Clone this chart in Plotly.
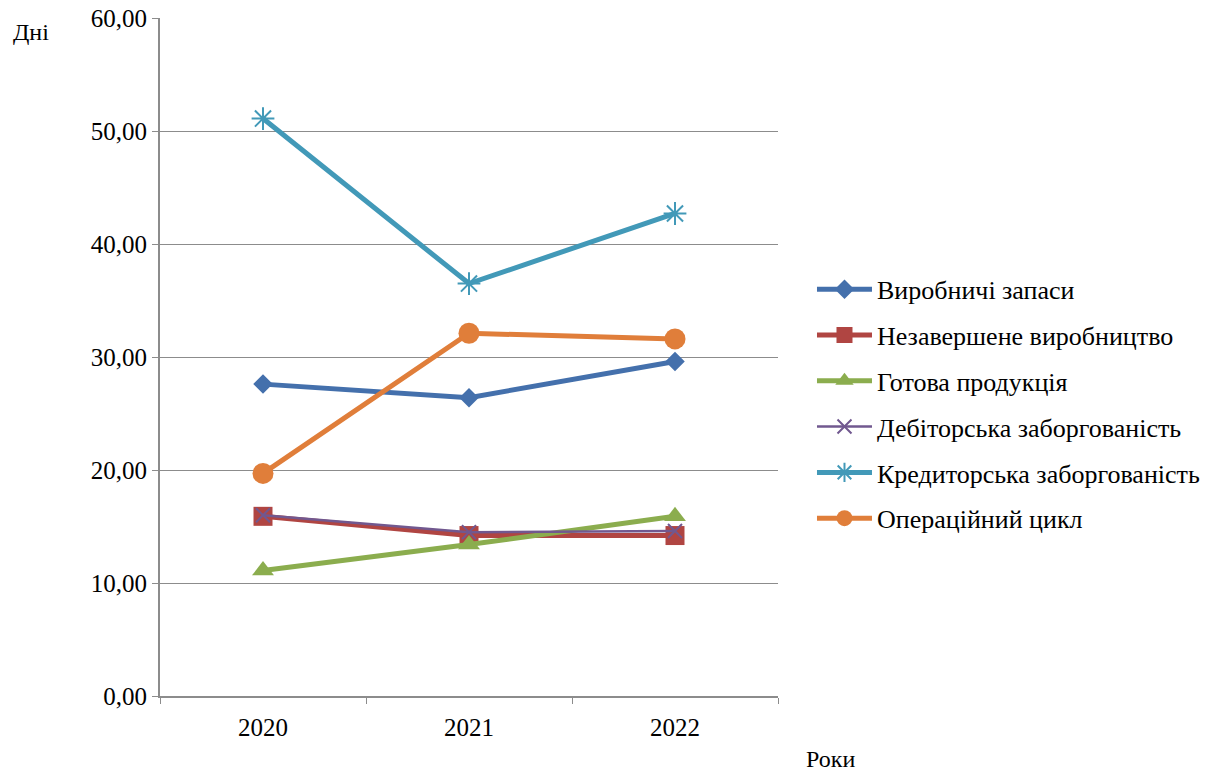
import plotly.graph_objects as go

years = ["2020", "2021", "2022"]
series_names = ["Виробничі запаси", "Незавершене виробництво", "Готова продукція",
                "Дебіторська заборгованість", "Кредиторська заборгованість", "Операційний цикл"]
vyrobnychi = [27.6, 26.4, 29.6]
nezavershene = [15.9, 14.2, 14.2]
gotova = [11.1, 13.4, 15.9]
debitorska = [16.0, 14.5, 14.6]
kredytorska = [51.1, 36.5, 42.7]
operatsiinyi = [19.7, 32.1, 31.6]
y_ticks = [0, 10, 20, 30, 40, 50, 60]

values = [vyrobnychi, nezavershene, gotova, debitorska, kredytorska, operatsiinyi]
colors = ["#4470AC", "#B04542", "#8BAD4E", "#71588F", "#4299B8", "#E07E3A"]
symbols = ["diamond", "square", "triangle-up", "x-thin-open", "asterisk-open", "circle"]
sizes = [15, 19, 19, 14, 19, 21]
widths = [5, 5, 5, 2.5, 5, 5]

FONT = "Liberation Serif"
W, H = 1223, 773
ML, MR, MT, MB = 160, 445, 18, 77

fig = go.Figure()
for i, (name, vals) in enumerate(zip(series_names, values)):
    open_sym = symbols[i].endswith("open")
    fig.add_trace(go.Scatter(
        x=years, y=vals, name=name, mode="lines+markers",
        legendgroup=f"g{i}",
        line=dict(color=colors[i], width=widths[i]),
        marker=dict(symbol=symbols[i], size=sizes[i], color=colors[i],
                    line=dict(color=colors[i], width=2 if open_sym else 0)),
    ))

fig.update_layout(
    width=W, height=H,
    margin=dict(l=ML, r=MR, t=MT, b=MB, autoexpand=False),
    paper_bgcolor="white", plot_bgcolor="white",
    font=dict(family=FONT, size=24, color="black"),
    separators=", ",
    showlegend=True,
    legend=dict(x=1.055, y=0.431, xanchor="left", yanchor="middle",
                font=dict(family=FONT, size=26, color="black"),
                tracegroupgap=9, itemwidth=55, bgcolor="rgba(0,0,0,0)"),
    xaxis=dict(type="category", range=[-0.5, 2.5], showgrid=False, automargin=False,
               showline=True, linecolor="#8c8c8c", linewidth=2,
               ticks="outside", tickson="boundaries", ticklen=6, tickcolor="#8c8c8c",
               tickfont=dict(family=FONT, size=25), ticklabelstandoff=8),
    yaxis=dict(range=[0, 60], tickvals=y_ticks, tickformat=".2f", automargin=False,
               showgrid=True, gridcolor="#8c8c8c", gridwidth=1.3,
               showline=True, linecolor="#8c8c8c", linewidth=2,
               ticks="outside", ticklen=6, tickcolor="#8c8c8c",
               tickfont=dict(family=FONT, size=25), zeroline=False),
)

pw, ph = W - ML - MR, H - MT - MB
for text, px, py in [("Дні", 31, 32), ("Роки", 830, 759)]:
    fig.add_annotation(text=text, showarrow=False, xref="paper", yref="paper",
                       x=(px - ML) / pw, y=(H - MB - py) / ph,
                       xanchor="center", yanchor="middle",
                       font=dict(family=FONT, size=24, color="black"))

fig.write_html("out.html")
